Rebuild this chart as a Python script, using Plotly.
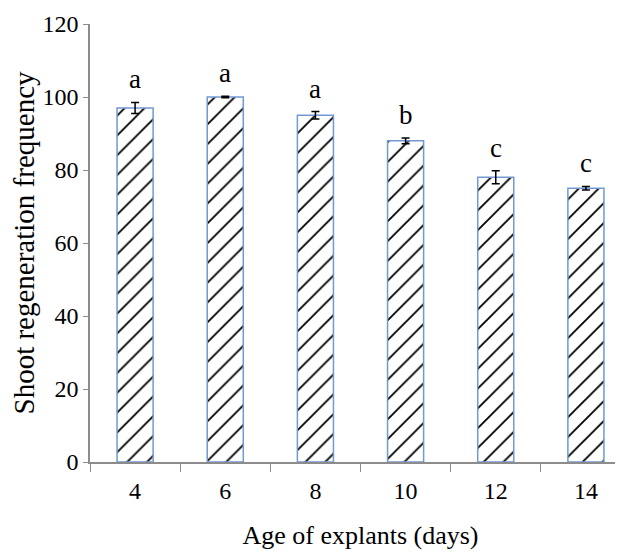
import plotly.graph_objects as go

categories = ["4", "6", "8", "10", "12", "14"]
values = [97, 100, 95, 88, 78, 75]
errors = [1.5, 0.2, 1.0, 0.8, 1.8, 0.5]
letters = ["a", "a", "a", "b", "c", "c"]
y_ticks = [0, 20, 40, 60, 80, 100, 120]

font_family = "Liberation Serif, Times New Roman, serif"

fig = go.Figure()
fig.add_trace(go.Bar(
    x=categories, y=values,
    width=0.4,
    marker=dict(
        color="white",
        line=dict(color="#7299d2", width=1.5),
        pattern=dict(shape="/", fgcolor="#000000", fgopacity=1, bgcolor="white",
                     size=14, solidity=0.13, fillmode="replace"),
    ),
    error_y=dict(type="data", array=errors, visible=True, color="black", thickness=1.5, width=4),
))

for i, (v, e, t) in enumerate(zip(values, errors, letters)):
    fig.add_annotation(x=i, y=v + e, text=t, showarrow=False, yanchor="bottom", yshift=6,
                       font=dict(family=font_family, size=27, color="black"))

fig.update_layout(
    width=623, height=552,
    margin=dict(l=82, r=0, t=16, b=98),
    plot_bgcolor="white", paper_bgcolor="white",
    showlegend=False,
    font=dict(family=font_family, size=24, color="black"),
)
fig.update_xaxes(
    type="category", range=[-0.5, 5.5], automargin=False,
    showline=True, linecolor="#8c8c8c", linewidth=1.5,
    ticks="outside", tickson="boundaries", ticklen=8, tickcolor="#8c8c8c",
    showgrid=False, ticklabelstandoff=6,
    tickfont=dict(family=font_family, size=24),
    title=dict(text="Age of explants (days)", font=dict(family=font_family, size=26), standoff=23),
)
fig.update_yaxes(
    range=[0, 120], tickvals=y_ticks, automargin=False,
    showline=True, linecolor="#8c8c8c", linewidth=1.5,
    ticks="outside", ticklen=5, tickcolor="#8c8c8c",
    showgrid=False, zeroline=False,
    tickfont=dict(family=font_family, size=24),
    title=dict(text="Shoot regeneration frequency", font=dict(family=font_family, size=29), standoff=16),
)

fig.write_html("out.html")
